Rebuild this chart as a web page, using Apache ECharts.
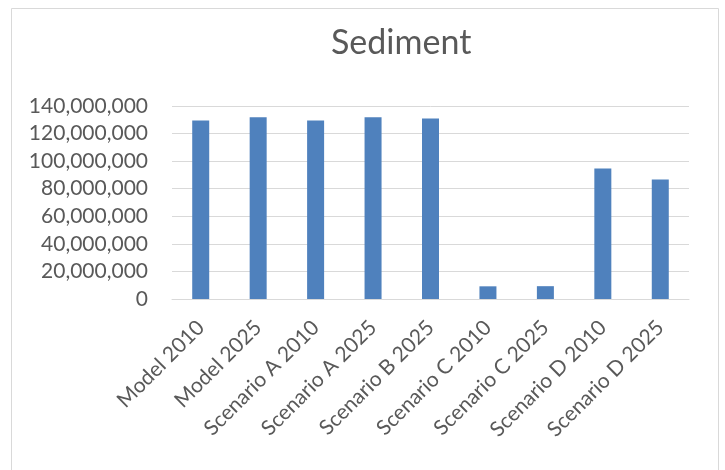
<!DOCTYPE html>
<html>
<head>
<meta charset="utf-8">
<script src="https://cdn.jsdelivr.net/npm/echarts@6/dist/echarts.min.js"></script>
<style>
  html, body { margin: 0; padding: 0; background: #ffffff; }
  #chart { width: 725px; height: 470px; }
</style>
</head>
<body>
<div id="chart"></div>
<script>
// Sediment load per run
const categories = [
  'Model 2010', 'Model 2025', 'Scenario A 2010', 'Scenario A 2025',
  'Scenario B 2025', 'Scenario C 2010', 'Scenario C 2025',
  'Scenario D 2010', 'Scenario D 2025'
];
const sediment = [
  129500000, 131800000, 129500000, 131800000,
  130900000, 9200000, 9300000,
  94600000, 86700000
];
const yTicks = { min: 0, max: 140000000, interval: 20000000 };

const font = 'Lato, "Open Sans", sans-serif';
const textColor = '#595959';

const chart = echarts.init(document.getElementById('chart'), null, { renderer: 'canvas' });
chart.setOption({
  backgroundColor: '#ffffff',
  animation: false,
  graphic: [{
    type: 'rect',
    shape: { x: 11.5, y: 8.5, width: 707, height: 470 },
    style: { fill: 'none', stroke: '#D9D9D9', lineWidth: 1 },
    silent: true
  }],
  title: {
    text: 'Sediment',
    left: 326,
    top: 21,
    textStyle: { fontFamily: font, fontSize: 34, fontWeight: 'normal', color: textColor }
  },
  grid: { left: 172, right: 36, top: 106, bottom: 171, containLabel: false },
  xAxis: {
    type: 'category',
    data: categories,
    axisLine: { show: true, lineStyle: { color: '#D9D9D9', width: 1 } },
    axisTick: { show: false },
    axisLabel: {
      rotate: 45,
      interval: 0,
      margin: 25,
      fontFamily: font,
      fontSize: 21,
      color: textColor
    }
  },
  yAxis: {
    type: 'value',
    min: yTicks.min,
    max: yTicks.max,
    interval: yTicks.interval,
    axisLine: { show: false },
    axisTick: { show: false },
    splitLine: { lineStyle: { color: '#D9D9D9', width: 1 } },
    axisLabel: {
      margin: 24,
      fontFamily: font,
      fontSize: 21,
      color: textColor,
      formatter: v => v.toLocaleString('en-US')
    }
  },
  series: [{
    type: 'bar',
    data: sediment,
    barWidth: 17,
    itemStyle: { color: '#4F81BD' }
  }]
});
</script>
</body>
</html>
